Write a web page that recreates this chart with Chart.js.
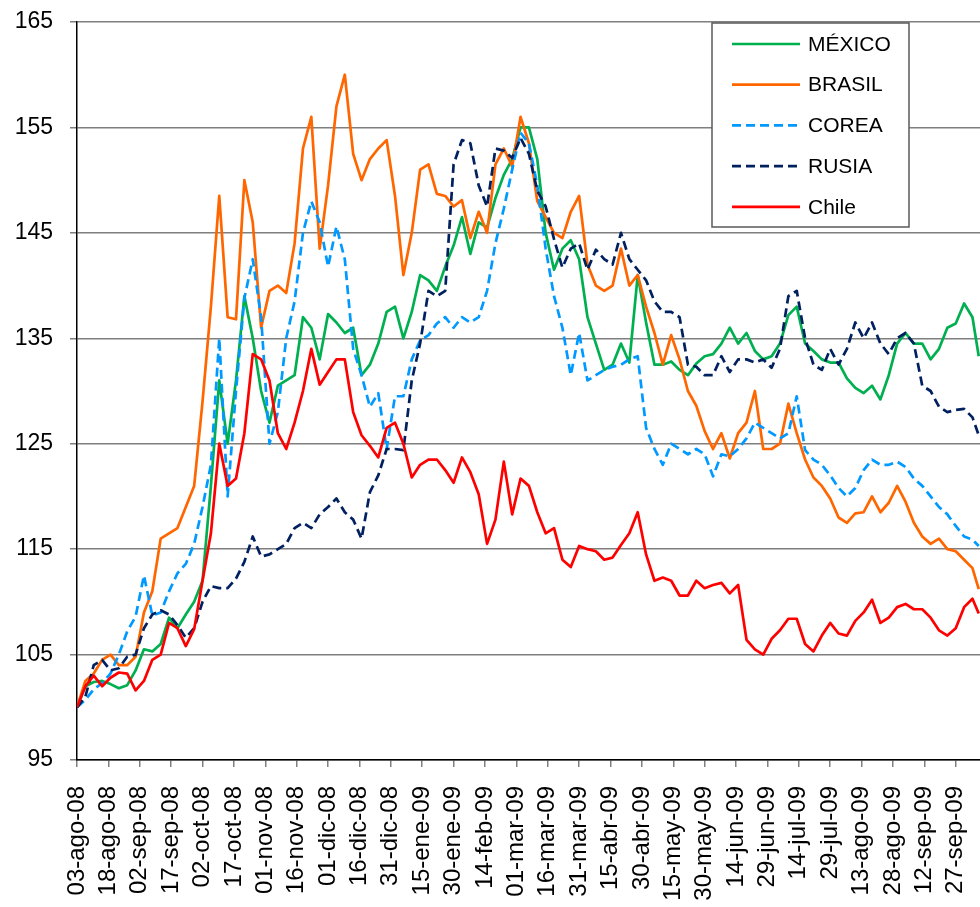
<!DOCTYPE html>
<html>
<head>
<meta charset="utf-8">
<script src="https://cdn.jsdelivr.net/npm/chart.js@4.4.1/dist/chart.umd.min.js"></script>
<style>
html, body { margin: 0; padding: 0; background: #ffffff; overflow: hidden; }
#wrap { position: absolute; left: 0; top: 0; width: 980px; height: 950px; }
</style>
</head>
<body>
<div id="wrap"><canvas id="c" width="980" height="950"></canvas></div>
<script>
// Tick labels, one every 15 days starting at 03-ago-08
const tickLabels = ['03-ago-08','18-ago-08','02-sep-08','17-sep-08','02-oct-08','17-oct-08','01-nov-08','16-nov-08',
  '01-dic-08','16-dic-08','31-dic-08','15-ene-09','30-ene-09','14-feb-09','01-mar-09','16-mar-09','31-mar-09',
  '15-abr-09','30-abr-09','15-may-09','30-may-09','14-jun-09','29-jun-09','14-jul-09','29-jul-09','13-ago-09',
  '28-ago-09','12-sep-09','27-sep-09'];

// Days elapsed since 03-ago-08 for each sampled observation
const days = [0,4,8,12,16,20,24,28,32,36,
  40,44,48,52,56,60,64,68,72,76,
  80,84,88,92,96,100,104,108,112,116,
  120,124,128,132,136,140,144,148,152,156,
  160,164,168,172,176,180,184,188,192,196,
  200,204,208,212,216,220,224,228,232,236,
  240,244,248,252,256,260,264,268,272,276,
  280,284,288,292,296,300,304,308,312,316,
  320,324,328,332,336,340,344,348,352,356,
  360,364,368,372,376,380,384,388,392,396,
  400,404,408,412,416,420,424,428,431];

const seriesNames = ['MÉXICO','BRASIL','COREA','RUSIA','Chile'];

const mexico = [100,102,102.4,102.5,102.2,101.8,102.1,103.5,105.5,105.3,
  106,108.5,107.5,108.8,110,112,121,131,125,131,
  139,135,130,127,130.5,131,131.5,137,136,133,
  137.3,136.5,135.5,136,131.5,132.5,134.5,137.5,138,135,
  137.5,141,140.5,139.5,141.8,143.8,146.5,143,146,145.5,
  148.3,150.5,152,155,155,152,145,141.5,143.5,144.3,
  142.5,137,134.5,132,132.5,134.5,132.7,141,136.5,132.5,
  132.5,132.8,132,131.5,132.6,133.3,133.5,134.5,136,134.5,
  135.5,133.8,133,133.3,134.5,137.2,138,134.5,133.8,133,
  132.7,132.7,131.2,130.3,129.8,130.5,129.2,131.5,134.5,135.5,
  134.5,134.5,133,134,136,136.4,138.3,137,133.3];

const brasil = [100,102.5,103.2,104.5,105,104,104,104.8,109,111,
  116,116.5,117,119,121,129,138,148.5,137,136.8,
  150,146,136,139.5,140,139.3,144,153,156,143.5,
  149.5,157,160,152.5,150,152,153,153.8,148.5,141,
  145,151,151.5,148.7,148.5,147.5,148.1,144.5,147,145,
  151.5,153,151.3,156,153.5,148,146.5,145,144.5,147,
  148.5,142,140,139.5,140,143.5,140,141,138,135.5,
  132.5,135.3,133,130,128.6,126.2,124.5,126,123.6,126,
  127,130,124.5,124.5,125,128.8,126,123.5,121.8,121,
  119.8,118,117.5,118.4,118.5,120,118.5,119.4,121,119.5,
  117.5,116.2,115.5,116,115,114.8,114,113.2,111.2];

const corea = [100,100.7,101.7,102.3,103.2,105,107.2,108.6,112.5,108.7,
  109,111,112.7,113.6,115.5,119,123,135,120,130,
  138.8,142.5,137,125,128,135,138.5,145,148,146,
  141.8,145.6,142.5,134,131.5,128.5,129.8,124.5,129.5,129.5,
  133,134.8,135.3,136.4,137,136,137,136.5,137,139.5,
  144,147.3,151,154.5,153.5,149.5,143.5,139,136,131.5,
  135.5,131,131.5,132,132.3,132.5,133,133.3,126.5,124.5,
  123,125,124.5,124,124.5,124,121.9,124,123.8,124.5,
  125.5,127,126.5,126,125.5,126,129.5,124.4,123.5,123,
  122,120.8,120,120.8,122.5,123.5,123,123,123.3,122.8,
  121.7,121,120,119,118.3,117.2,116.2,115.9,115.3];

const rusia = [100,101,104,104.5,103.5,103.7,104.8,105,107.5,108.8,
  109.2,108.8,107.8,106.6,107.5,110,111.5,111.3,111.3,112.2,
  113.8,116.2,114.3,114.5,115,115.5,117,117.5,117,118.3,
  119,119.8,118.5,117.8,116,120.4,122,124.5,124.5,124.4,
  131,134.5,139.5,139,139.5,151.5,153.8,153.5,149.5,147.5,
  153,152.8,152.1,154,152.5,149,147.5,144.4,141.7,143.5,
  144,141.5,143.4,142.5,142,145,142.5,141.5,140.5,138.5,
  137.5,137.5,137,132.5,132.3,131.5,131.5,133.3,131.8,133,
  133,132.7,133,132.2,134,139,139.5,135,132.5,132,
  134,132.5,134,136.5,135,136.5,134.5,133.5,135,135.5,
  134.5,130.5,130,128.5,128,128.2,128.3,127.5,125.8];

const chile = [100,102,103,102,102.8,103.3,103.2,101.6,102.5,104.5,
  105,108,107.5,105.8,107.4,112,116.5,125,121,121.7,
  126,133.5,133,131,126,124.5,127,130,134,130.6,
  131.8,133,133,128,125.8,124.8,123.7,126.5,127,125,
  121.8,123,123.5,123.5,122.5,121.3,123.7,122.3,120.2,115.5,
  117.8,123.3,118.3,121.7,121,118.5,116.5,117,114,113.3,
  115.3,115,114.8,114,114.2,115.4,116.5,118.5,114.5,112,
  112.3,112,110.6,110.6,112,111.3,111.6,111.8,110.8,111.6,
  106.4,105.5,105,106.5,107.3,108.4,108.4,106,105.3,106.8,
  108,107,106.8,108.2,109,110.2,108,108.5,109.5,109.8,
  109.3,109.3,108.5,107.3,106.8,107.5,109.5,110.3,108.9];

const FONT = '"Liberation Sans", Arial, Helvetica, sans-serif';
const seriesValues = [mexico, brasil, corea, rusia, chile];
const seriesColors = ['#00B050', '#FF6600', '#0099FF', '#002060', '#FF0000'];
const seriesDash = [[], [], [9, 5], [9, 5], []];

const datasets = seriesValues.map((vals, k) => ({
  label: seriesNames[k],
  data: days.map((d, i) => ({ x: d, y: vals[i] })),
  borderColor: seriesColors[k],
  backgroundColor: seriesColors[k],
  borderWidth: 2.7,
  borderDash: seriesDash[k],
  borderJoinStyle: 'round',
  pointRadius: 0,
  pointHoverRadius: 0,
  tension: 0,
  fill: false,
  order: seriesValues.length - k
}));

const boxLegend = {
  id: 'boxLegend',
  afterDraw(chart) {
    const ctx = chart.ctx;
    const bx = 712, by = 23, bw = 197, bh = 204;
    ctx.save();
    ctx.fillStyle = '#ffffff';
    ctx.fillRect(bx, by, bw, bh);
    ctx.strokeStyle = '#595959';
    ctx.lineWidth = 1.5;
    ctx.strokeRect(bx, by, bw, bh);
    ctx.font = '21px ' + FONT;
    ctx.textBaseline = 'middle';
    ctx.textAlign = 'left';
    chart.data.datasets.forEach((ds, i) => {
      const y = 44 + i * 40.7;
      ctx.strokeStyle = ds.borderColor;
      ctx.lineWidth = 2.7;
      ctx.setLineDash(ds.borderDash || []);
      ctx.beginPath();
      ctx.moveTo(732, y);
      ctx.lineTo(800, y);
      ctx.stroke();
      ctx.setLineDash([]);
      ctx.fillStyle = '#000000';
      ctx.fillText(ds.label, 808, y + 1);
    });
    ctx.restore();
  }
};

new Chart(document.getElementById('c'), {
  type: 'line',
  data: { datasets },
  plugins: [boxLegend],
  options: {
    responsive: false,
    animation: false,
    devicePixelRatio: 1,
    layout: { padding: { top: 22, left: 0, right: 0, bottom: 0 } },
    plugins: { legend: { display: false }, tooltip: { enabled: false } },
    scales: {
      x: {
        type: 'linear',
        min: 0,
        max: 431.6,
        ticks: {
          stepSize: 15,
          includeBounds: false,
          autoSkip: false,
          maxRotation: 90,
          minRotation: 90,
          padding: 19,
          color: '#000000',
          font: { family: FONT, size: 24 },
          callback: (v) => tickLabels[Math.round(v / 15)] ?? ''
        },
        grid: { drawOnChartArea: false, drawTicks: true, tickLength: 7, color: '#808080', lineWidth: 1.5 },
        border: { display: true, color: '#000000', width: 1.5 },
        afterFit(s) { s.height = 190; s.paddingLeft = 0; s.paddingRight = 0; }
      },
      y: {
        min: 95,
        max: 165,
        ticks: { stepSize: 10, padding: 17, color: '#000000', font: { family: FONT, size: 23 } },
        grid: { color: '#7f7f7f', lineWidth: 1.5, tickLength: 7, drawTicks: true },
        border: { display: true, color: '#000000', width: 1.5 },
        afterFit(s) { s.width = 77; s.paddingTop = 0; s.paddingBottom = 0; }
      }
    }
  }
});
</script>
</body>
</html>
